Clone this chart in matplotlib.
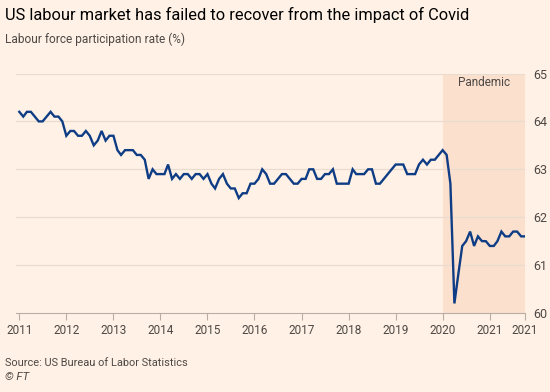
import matplotlib
matplotlib.use("Agg")
import matplotlib.pyplot as plt
import pandas as pd

# ---- data (monthly, Jan 2011 – Oct 2021) ----
start_month = "2011-01"
values = [
    64.2, 64.1, 64.2, 64.2, 64.1, 64.0, 64.0, 64.1, 64.2, 64.1, 64.1, 64.0,  # 2011
    63.7, 63.8, 63.8, 63.7, 63.7, 63.8, 63.7, 63.5, 63.6, 63.8, 63.6, 63.7,  # 2012
    63.7, 63.4, 63.3, 63.4, 63.4, 63.4, 63.3, 63.3, 63.2, 62.8, 63.0, 62.9,  # 2013
    62.9, 62.9, 63.1, 62.8, 62.9, 62.8, 62.9, 62.9, 62.8, 62.9, 62.9, 62.8,  # 2014
    62.9, 62.7, 62.6, 62.8, 62.9, 62.7, 62.6, 62.6, 62.4, 62.5, 62.5, 62.7,  # 2015
    62.7, 62.8, 63.0, 62.9, 62.7, 62.7, 62.8, 62.9, 62.9, 62.8, 62.7, 62.7,  # 2016
    62.8, 62.8, 63.0, 63.0, 62.8, 62.8, 62.9, 62.9, 63.0, 62.7, 62.7, 62.7,  # 2017
    62.7, 63.0, 62.9, 62.9, 62.9, 63.0, 63.0, 62.7, 62.7, 62.8, 62.9, 63.0,  # 2018
    63.1, 63.1, 63.1, 62.9, 62.9, 62.9, 63.1, 63.2, 63.1, 63.2, 63.2, 63.3,  # 2019
    63.4, 63.3, 62.7, 60.2, 60.8, 61.4, 61.5, 61.7, 61.4, 61.6, 61.5, 61.5,  # 2020
    61.4, 61.4, 61.5, 61.7, 61.6, 61.6, 61.7, 61.7, 61.6, 61.6,              # 2021
]
year_ticks = ["2011", "2012", "2013", "2014", "2015", "2016", "2017",
              "2018", "2019", "2020", "2021"]
final_tick_label = "2021"
y_ticks = [60, 61, 62, 63, 64, 65]
pandemic_start = "2020-01-01"
pandemic_label = "Pandemic"

title = "US labour market has failed to recover from the impact of Covid"
subtitle = "Labour force participation rate (%)"
source = "Source: US Bureau of Labor Statistics"
credit = "\u00a9 FT"

# ---- style ----
BG = "#FFF1E5"
SHADE = "#FBE0CE"
LINE = "#0F3D85"
GRID = "#E9DBCE"
AXIS = "#B8ADA4"
TXT2 = "#4D4845"
plt.rcParams["font.family"] = ["Roboto", "DejaVu Sans"]

dates = pd.date_range(start_month, periods=len(values), freq="MS")

fig = plt.figure(figsize=(5.5, 3.92), dpi=100, facecolor=BG)
ax = fig.add_axes([0.029, 0.2015, 0.9255, 0.611])
ax.set_facecolor(BG)

x0 = dates[0] - pd.Timedelta(days=26)
x1 = dates[-1]
ax.set_xlim(x0, x1)
ax.set_ylim(60, 65)

ax.axvspan(pd.Timestamp(pandemic_start), x1, color=SHADE, lw=0, zorder=0)

for y in y_ticks[1:]:
    ax.axhline(y, color=GRID, lw=0.9, zorder=1)

ax.plot(dates, values, color=LINE, lw=1.7, zorder=3, solid_joinstyle="miter")

for s in ["left", "top", "right"]:
    ax.spines[s].set_visible(False)
ax.spines["bottom"].set_color(AXIS)
ax.spines["bottom"].set_linewidth(0.8)

tick_pos = [pd.Timestamp(f"{y}-01-01") for y in year_ticks] + [dates[-1]]
ax.set_xticks(tick_pos)
ax.set_xticklabels(year_ticks + [final_tick_label])
ax.tick_params(axis="x", length=5, width=0.8, color=AXIS, labelsize=8.5,
               labelcolor=TXT2, pad=3)

ax.yaxis.tick_right()
ax.set_yticks(y_ticks)
ax.set_yticklabels([str(v) for v in y_ticks])
ax.tick_params(axis="y", length=0, labelsize=9, labelcolor=TXT2, pad=6)

ax.text(pd.Timestamp(pandemic_start) + (x1 - pd.Timestamp(pandemic_start)) / 2, 64.82,
        pandemic_label, ha="center", va="center", fontsize=8.5, color=TXT2)

fig.text(5 / 550, 1 - 15 / 392, title, ha="left", va="center", fontsize=11.8, color="#000000")
fig.text(5 / 550, 1 - 39 / 392, subtitle, ha="left", va="center", fontsize=8.6, color=TXT2)
fig.text(5 / 550, 1 - 363 / 392, source, ha="left", va="center", fontsize=7.9, color=TXT2)
fig.text(5 / 550, 1 - 377 / 392, credit, ha="left", va="center", fontsize=8.2, color=TXT2, style="italic")

fig.savefig("out.png", dpi=100, facecolor=BG)
